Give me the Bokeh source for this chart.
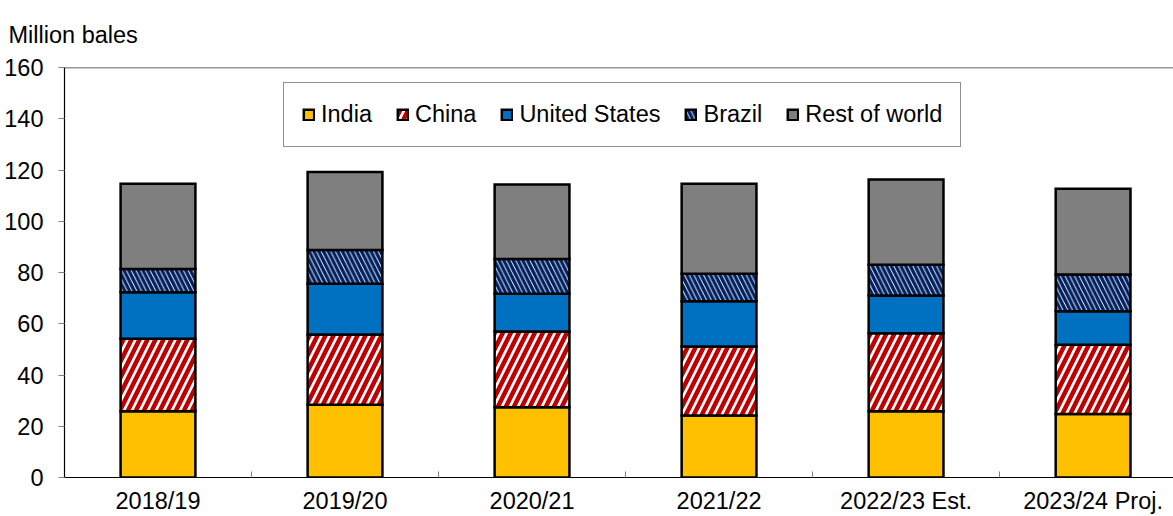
from bokeh.plotting import figure
from bokeh.models import Range1d, FixedTicker, Span, Legend, LegendItem
from bokeh.embed import file_html
from bokeh.resources import INLINE

# Cotton production by region, million bales
years = ["2018/19", "2019/20", "2020/21", "2021/22", "2022/23 Est.", "2023/24 Proj."]
india = [25.9, 28.4, 27.4, 24.2, 25.9, 24.8]
china = [28.2, 27.4, 29.6, 26.9, 30.4, 27.0]
united_states = [18.2, 19.8, 14.7, 17.7, 14.7, 13.1]
brazil = [9.1, 13.2, 13.6, 10.7, 12.0, 14.3]
rest_of_world = [33.2, 30.4, 29.0, 35.1, 33.3, 33.5]

series_names = ["India", "China", "United States", "Brazil", "Rest of world"]
series_values = [india, china, united_states, brazil, rest_of_world]
y_ticks = [0, 20, 40, 60, 80, 100, 120, 140, 160]
unit_label = "Million bales"

FONT = "Liberation Sans"
FSIZE = "23.5px"

# one slot per season; the frame is cut a little short on the right
xs = [i + 0.5 for i in range(len(years))]
x_end = 5.93

p = figure(
    width=1173, height=516,
    output_backend="svg", toolbar_location=None,
    x_range=Range1d(0, x_end), y_range=Range1d(0, 160),
    min_border_left=64, min_border_right=0,
    min_border_top=67, min_border_bottom=39,
)
p.outline_line_color = None
p.xgrid.visible = False
p.ygrid.visible = False
p.background_fill_color = "white"
p.border_fill_color = "white"

styles = [
    dict(fill_color="#FFC000"),
    dict(fill_color="white", hatch_pattern="right_diagonal_line",
         hatch_color="#C00000", hatch_scale=16, hatch_weight=4.5),
    dict(fill_color="#0070C0"),
    dict(fill_color="white", hatch_pattern="left_diagonal_line",
         hatch_color="#002060", hatch_scale=9.5, hatch_weight=3.4),
    dict(fill_color="#7F7F7F"),
]

bottoms = [0.0] * len(years)
items = []
for name, vals, st in zip(series_names, series_values, styles):
    tops = [b + v for b, v in zip(bottoms, vals)]
    r = p.vbar(x=xs, bottom=bottoms, top=tops, width=0.4,
               line_color="black", line_width=2.5, line_join="miter", **st)
    items.append(LegendItem(label=name, renderers=[r]))
    bottoms = tops

# top border of the frame
p.add_layout(Span(location=160, dimension="width", line_color="#303030", line_width=1.5))

legend = Legend(
    items=items, orientation="horizontal", location=(219, 330),
    label_text_font=FONT, label_text_font_size=FSIZE, label_text_color="black",
    glyph_width=13, glyph_height=13, label_standoff=6, spacing=24,
    padding=18, margin=0,
    border_line_color="#202020", border_line_width=1.2,
    background_fill_color="white", background_fill_alpha=1,
)
p.add_layout(legend)

# x axis: season labels at slot centres, small ticks between slots
xa = p.xaxis[0]
xa.ticker = FixedTicker(ticks=xs, minor_ticks=[1, 2, 3, 4, 5])
xa.major_label_overrides = {x: y for x, y in zip(xs, years)}
xa.major_tick_in = 0
xa.major_tick_out = 0
xa.minor_tick_in = 6
xa.minor_tick_out = 0
xa.minor_tick_line_color = "#808080"
xa.minor_tick_line_width = 1
xa.axis_line_color = "black"
xa.axis_line_width = 1.2
xa.major_label_text_font = FONT
xa.major_label_text_font_size = FSIZE
xa.major_label_text_color = "black"
xa.major_label_standoff = 10

ya = p.yaxis[0]
ya.ticker = FixedTicker(ticks=y_ticks)
ya.major_tick_in = 0
ya.major_tick_out = 6
ya.major_tick_line_color = "#808080"
ya.minor_tick_in = 0
ya.minor_tick_out = 0
ya.axis_line_color = "black"
ya.axis_line_width = 1.2
ya.major_label_text_font = FONT
ya.major_label_text_font_size = FSIZE
ya.major_label_text_color = "black"
ya.major_label_standoff = 15

# unit caption in the space above the value axis
p.title.text = unit_label
p.title.align = "left"
p.title.vertical_align = "top"
p.title.offset = -56
p.title.standoff = 36
p.title.text_font = FONT
p.title.text_font_size = FSIZE
p.title.text_font_style = "normal"
p.title.text_color = "black"

open("out.html", "w").write(file_html(p, INLINE))
